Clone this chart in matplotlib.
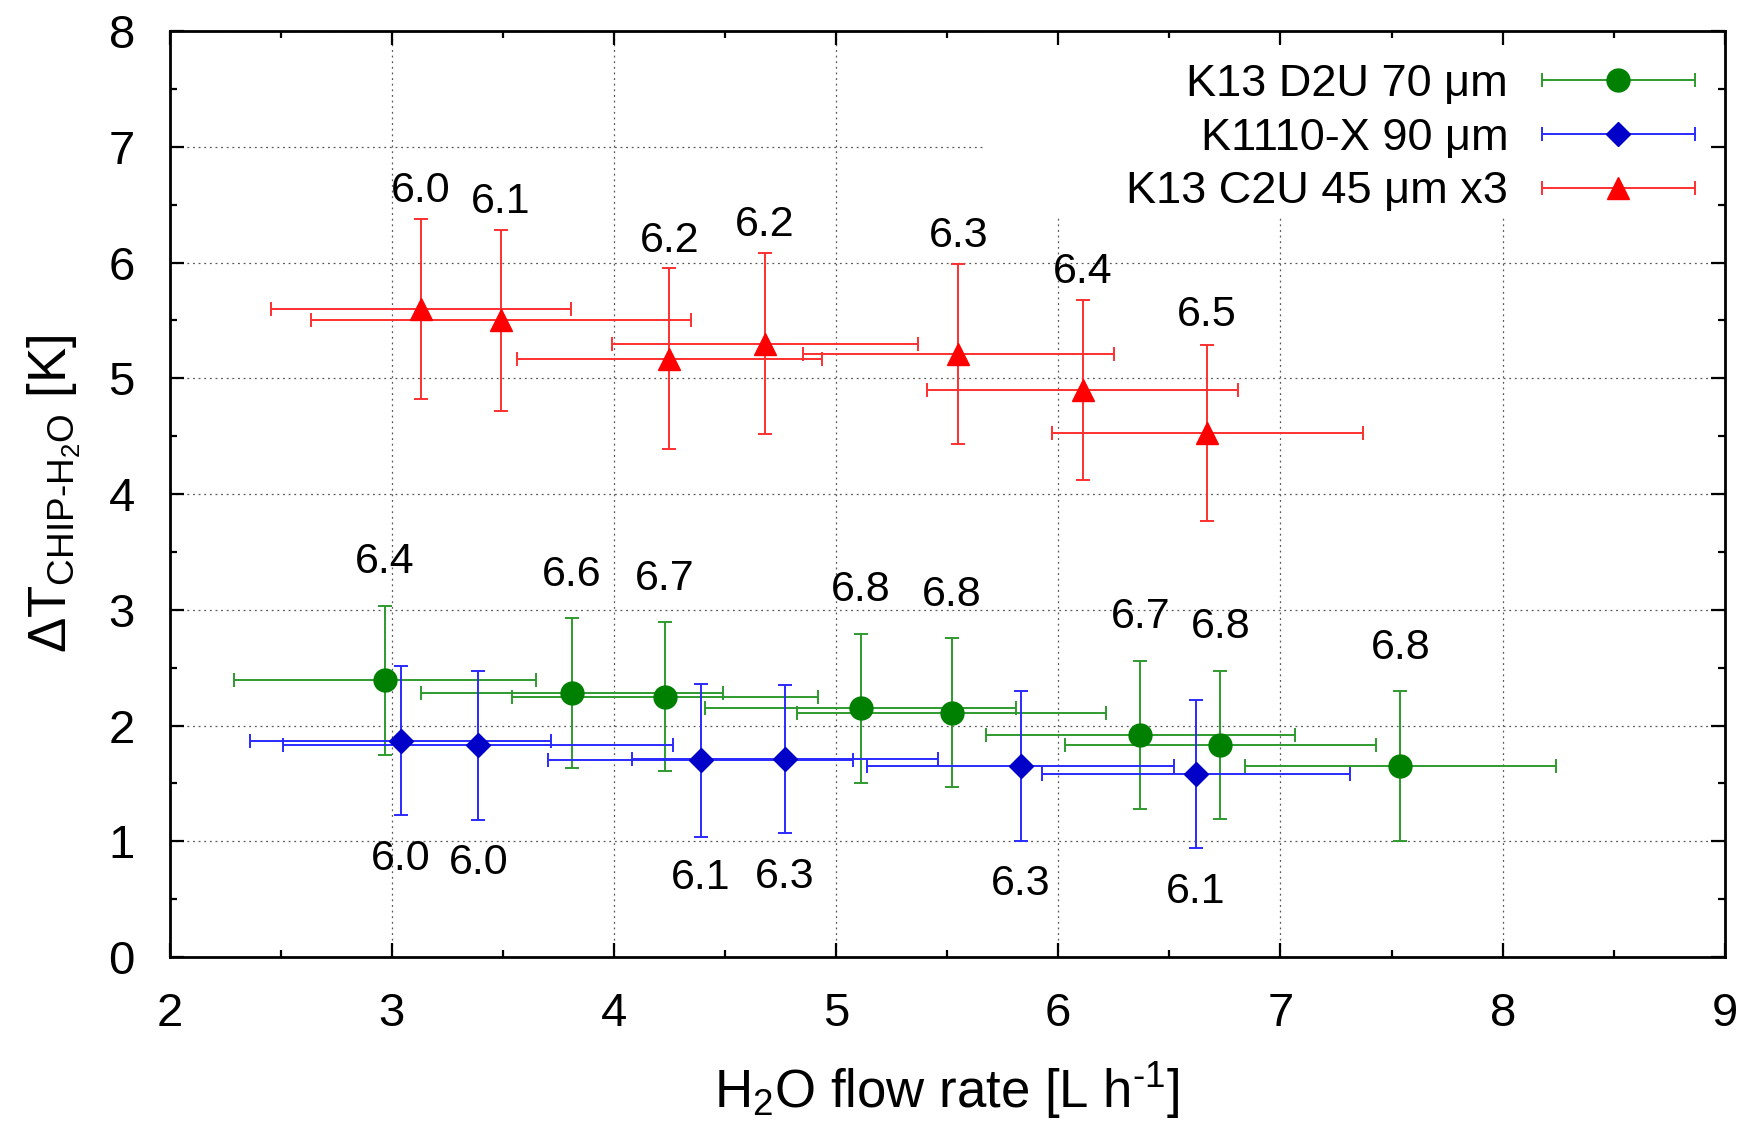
import matplotlib

matplotlib.use("Agg")
import matplotlib.pyplot as plt
from matplotlib.container import ErrorbarContainer
from matplotlib.legend_handler import HandlerErrorbar
from matplotlib.patches import Rectangle
from matplotlib.ticker import MultipleLocator

# K13 C2U 45 um x3 (red triangles)
red_x = [3.13, 3.49, 4.25, 4.68, 5.55, 6.11, 6.67]
red_y = [5.60, 5.50, 5.17, 5.30, 5.21, 4.90, 4.53]
red_xerr = [0.675, 0.855, 0.685, 0.69, 0.70, 0.70, 0.70]
red_yerr = [0.78, 0.78, 0.78, 0.78, 0.78, 0.78, 0.76]
red_labels = ["6.0", "6.1", "6.2", "6.2", "6.3", "6.4", "6.5"]

# K13 D2U 70 um (green circles)
green_x = [2.97, 3.81, 4.23, 5.11, 5.52, 6.37, 6.73, 7.54]
green_y = [2.39, 2.28, 2.25, 2.15, 2.11, 1.92, 1.83, 1.65]
green_xerr = [0.68, 0.68, 0.69, 0.70, 0.695, 0.695, 0.70, 0.70]
green_yerr = [0.645, 0.645, 0.645, 0.645, 0.645, 0.64, 0.64, 0.645]
green_labels = ["6.4", "6.6", "6.7", "6.8", "6.8", "6.7", "6.8", "6.8"]

# K1110-X 90 um (blue diamonds)
blue_x = [3.04, 3.39, 4.39, 4.77, 5.83, 6.62]
blue_y = [1.87, 1.83, 1.70, 1.71, 1.65, 1.58]
blue_xerr = [0.678, 0.878, 0.687, 0.69, 0.693, 0.693]
blue_yerr = [0.64, 0.645, 0.66, 0.64, 0.645, 0.64]
blue_labels = ["6.0", "6.0", "6.1", "6.3", "6.3", "6.1"]

plt.rcParams["font.family"] = ["Liberation Sans", "DejaVu Sans"]
plt.rcParams["mathtext.fontset"] = "custom"
plt.rcParams["mathtext.rm"] = "Liberation Sans"
plt.rcParams["mathtext.it"] = "Liberation Sans:italic"
plt.rcParams["mathtext.default"] = "regular"

LABEL_OFFSET = 1.02
POS = [0.0976, 0.1508, 0.8954, 0.8217]

fig = plt.figure(figsize=(17.37, 11.27), dpi=100)
ax = fig.add_axes(POS)
ax.set_xlim(2, 9)
ax.set_ylim(0, 8)
ax.xaxis.set_major_locator(MultipleLocator(1))
ax.xaxis.set_minor_locator(MultipleLocator(0.5))
ax.yaxis.set_major_locator(MultipleLocator(1))
ax.yaxis.set_minor_locator(MultipleLocator(0.5))
ax.set_axisbelow(True)
ax.grid(True, which="major", linestyle=(0, (1.5, 3)), color="0.35", linewidth=0.9)
ax.tick_params(which="both", length=0, labelbottom=False, labelleft=False)
for s in ax.spines.values():
    s.set_visible(False)

# opaque key area hides the grid behind the legend (gnuplot style)
ax.add_patch(Rectangle((0.5236, 0.80), 0.4764, 0.20, transform=ax.transAxes,
                       facecolor="white", edgecolor="none", zorder=1))

series = [
    (green_x, green_y, green_xerr, green_yerr, green_labels, "o", 16.5, "#008000", "#2e9a2e",
     "K13 D2U 70 μm", LABEL_OFFSET),
    (blue_x, blue_y, blue_xerr, blue_yerr, blue_labels, "D", 12.5, "#0000c8", "#2a2aff",
     "K1110-X 90 μm", -LABEL_OFFSET),
    (red_x, red_y, red_xerr, red_yerr, red_labels, "^", 15.5, "#ff0000", "#ff3030",
     "K13 C2U 45 μm x3", LABEL_OFFSET),
]

handles = []
for xs, ys, xe, ye, labs, mk, ms, mcol, lcol, name, off in series:
    eb = ax.errorbar(xs, ys, xerr=xe, yerr=ye, fmt=mk, markersize=ms, color=mcol,
                     ecolor=lcol, elinewidth=1.4, capsize=5, capthick=1.4, zorder=3)
    proxy = ErrorbarContainer((eb.lines[0], eb.lines[1], eb.lines[2]),
                              has_xerr=True, has_yerr=False, label=name)
    handles.append(proxy)
    for x, y, t in zip(xs, ys, labs):
        ax.text(x, y + off, t, ha="center", va="center", fontsize=31, zorder=4)

leg = ax.legend(handles=handles, loc="upper right", bbox_to_anchor=(1.0, 0.9964),
                frameon=False, fontsize=32.5, markerfirst=False, handlelength=3.4,
                handletextpad=0.74, labelspacing=0.28, borderpad=0.66, borderaxespad=0.0,
                handler_map={ErrorbarContainer: HandlerErrorbar(xerr_size=1.7)})
leg.set_zorder(5)

# frame axes on top: spines and inward ticks on all four sides
frame = fig.add_axes(POS, sharex=ax, sharey=ax, zorder=ax.get_zorder() + 1)
frame.patch.set_visible(False)
for s in frame.spines.values():
    s.set_linewidth(2.0)
frame.tick_params(which="both", direction="in", top=True, right=True, width=1.6,
                  labelsize=34)
frame.tick_params(which="major", length=10, pad=25)
frame.tick_params(which="minor", length=5)
frame.set_xlabel("H$_2$O flow rate [L h$^{\u20101}$]", fontsize=38, labelpad=18)
frame.set_ylabel("$\\Delta$T$_{CHIP\u2010H_2O}$ [K]", fontsize=38, labelpad=18)

fig.savefig("out.png", dpi=100)
